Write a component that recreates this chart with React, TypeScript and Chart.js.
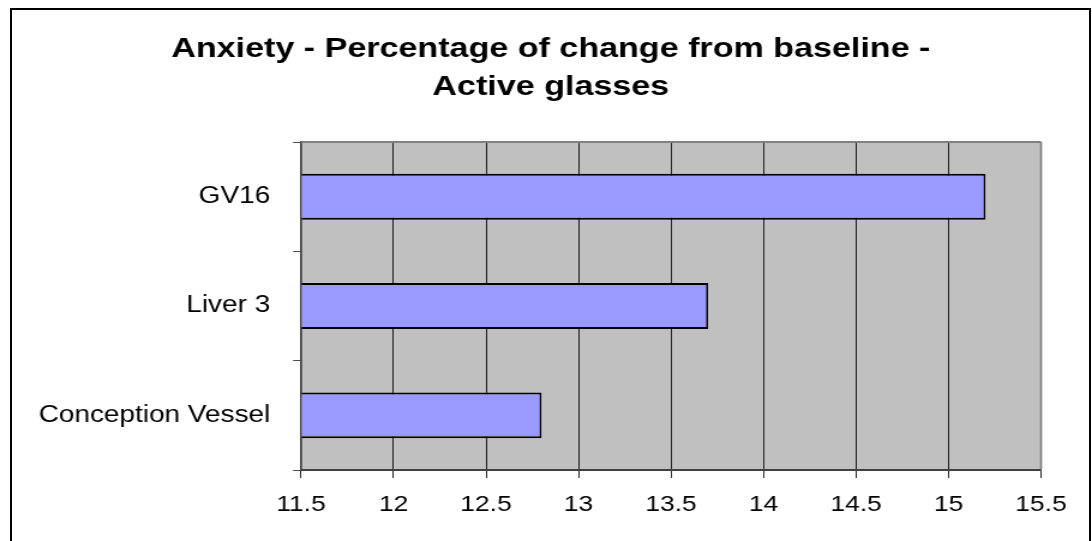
import { useEffect, useRef } from 'react';
import { Chart, registerables } from 'chart.js';

Chart.register(...registerables);

// Chart content
const titleLines = ['Anxiety - Percentage of change from baseline -', 'Active glasses'];
const categories = ['GV16', 'Liver 3', 'Conception Vessel'];
const changeValues = [15.2, 13.7, 12.8];
const xTickValues = [11.5, 12, 12.5, 13, 13.5, 14, 14.5, 15, 15.5];
const xMin = 11.5;
const xMax = 15.5;

const FONT = '"Liberation Sans", Arial, Helvetica, sans-serif';

// The drawing surface is narrower than its on-screen box and is widened by CSS,
// which gives the wide lettering of the original office chart.
const STRETCH = 1.2;
const CSS_W = 1092;
const CSS_H = 541;
const CANVAS_W = Math.round(CSS_W / STRETCH);
const CANVAS_H = CSS_H;

// Plot area edges in canvas units
const PLOT_LEFT = 301 / STRETCH;
const PLOT_RIGHT = 1041 / STRETCH;
const PAD_LEFT = 50.5;

const plotFrame = {
  id: 'plotFrame',
  afterLayout(chart: any) {
    // let the category labels use the whole left margin (no clipping at the padding)
    const y = chart.scales.y;
    if (y) y.left = 0;
  },
  beforeDraw(chart: any) {
    const { ctx, chartArea } = chart;
    ctx.save();
    ctx.fillStyle = '#C0C0C0';
    ctx.fillRect(chartArea.left, chartArea.top, chartArea.right - chartArea.left, chartArea.bottom - chartArea.top);
    ctx.restore();
  },
  afterDraw(chart: any) {
    const { ctx, chartArea } = chart;
    ctx.save();
    ctx.strokeStyle = '#808080';
    ctx.lineWidth = 2;
    ctx.beginPath();
    ctx.moveTo(chartArea.left, chartArea.top);
    ctx.lineTo(chartArea.right, chartArea.top);
    ctx.stroke();
    ctx.lineWidth = 1.7;
    ctx.beginPath();
    ctx.moveTo(chartArea.right, chartArea.top);
    ctx.lineTo(chartArea.right, chartArea.bottom - 1);
    ctx.stroke();
    ctx.restore();
  },
};

export default function App() {
  const canvasRef = useRef<HTMLCanvasElement | null>(null);

  useEffect(() => {
    const canvas = canvasRef.current;
    if (!canvas) return;
    const chart = new Chart(canvas, {
      type: 'bar',
      data: {
        labels: categories,
        datasets: [
          {
            data: changeValues,
            base: xMin,
            backgroundColor: '#9999FF',
            borderColor: '#000000',
            borderWidth: { top: 2, bottom: 2, right: 1.7, left: 1.7 },
            barPercentage: 0.42,
            categoryPercentage: 1,
          } as any,
        ],
      },
      plugins: [plotFrame],
      options: {
        indexAxis: 'y',
        responsive: false,
        animation: false,
        events: [],
        devicePixelRatio: 1,
        layout: { padding: { left: PAD_LEFT, right: CANVAS_W - PLOT_RIGHT, top: 0, bottom: 0 } },
        plugins: {
          legend: { display: false },
          tooltip: { enabled: false },
          title: {
            display: true,
            text: titleLines,
            color: '#000000',
            font: { family: FONT, size: 28.4, weight: 'bold', lineHeight: 1.34 },
            padding: { top: 30, bottom: 36 },
          },
        },
        scales: {
          x: {
            type: 'linear',
            position: 'bottom',
            min: xMin,
            max: xMax,
            afterBuildTicks(scale: any) {
              scale.ticks = xTickValues.map((v) => ({ value: v }));
            },
            afterFit(scale: any) {
              scale.height = 71;
            },
            grid: {
              color: '#000000',
              lineWidth: 0.85,
              drawTicks: true,
              tickLength: 8,
            },
            border: { display: true, color: '#404040', width: 2 },
            ticks: {
              color: '#000000',
              font: { family: FONT, size: 22 },
              padding: 13.5,
              maxRotation: 0,
              autoSkip: false,
              callback: (value: any) => String(Number(value)),
            },
          },
          y: {
            type: 'category',
            position: 'left',
            afterFit(scale: any) {
              scale.width = PLOT_LEFT - PAD_LEFT;
            },
            grid: {
              drawOnChartArea: false,
              drawTicks: true,
              tickLength: 8 / STRETCH,
              color: '#505050',
              lineWidth: 1,
            },
            border: { display: true, color: '#404040', width: 1.7 },
            ticks: {
              color: '#000000',
              font: { family: FONT, size: 23.3 },
              padding: 19,
            },
          },
        },
      } as any,
    });
    return () => chart.destroy();
  }, []);

  return (
    <div
      style={{
        position: 'fixed',
        left: 0,
        top: 0,
        width: CSS_W,
        height: CSS_H,
        background: '#ffffff',
        overflow: 'hidden',
      }}
    >
      <canvas
        ref={canvasRef}
        width={CANVAS_W}
        height={CANVAS_H}
        style={{ display: 'block', width: `${CSS_W}px`, height: `${CSS_H}px` }}
      />
      <div
        style={{
          position: 'absolute',
          left: 10,
          top: 8,
          width: 1081,
          height: CSS_H - 8,
          boxSizing: 'border-box',
          border: '2px solid #000000',
          borderBottom: 'none',
          pointerEvents: 'none',
        }}
      />
    </div>
  );
}
